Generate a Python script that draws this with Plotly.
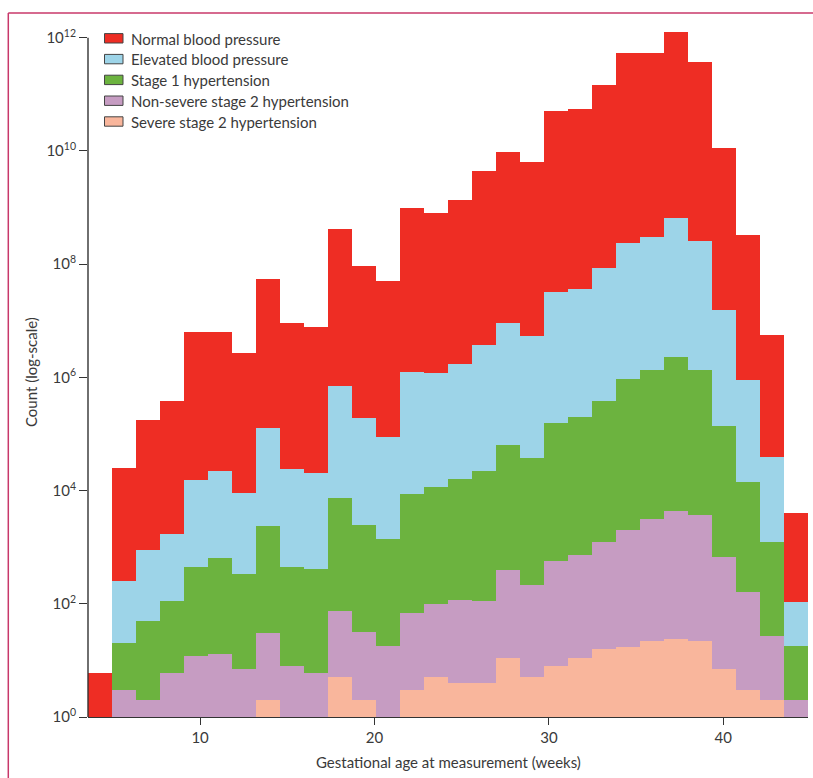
import plotly.graph_objects as go

# ---- data (heights are the top of each stacked segment) ----
week_start = 25 / 7      # first bin edge (weeks)
week_end = 314 / 7       # last bin edge (weeks)
n_bins = 30

normal_top = [6, 2.5e4, 1.8e5, 3.9e5, 6.3e6, 6.3e6, 2.75e6, 5.5e7, 9.2e6, 7.8e6,
              4.2e8, 9.3e7, 5.0e7, 1.0e9, 8.1e8, 1.35e9, 4.4e9, 9.6e9, 6.4e9, 5.1e10,
              5.5e10, 1.46e11, 5.3e11, 5.3e11, 1.26e12, 3.7e11, 1.13e10, 3.3e8, 5.6e6, 4.1e3]
elevated_top = [None, 256, 900, 1700, 1.55e4, 2.2e4, 9100, 1.3e5, 2.4e4, 2.05e4,
                7.1e5, 1.94e5, 8.7e4, 1.25e6, 1.2e6, 1.73e6, 3.7e6, 9.2e6, 5.4e6, 3.2e7,
                3.6e7, 8.5e7, 2.4e8, 3.0e8, 6.6e8, 2.6e8, 1.56e7, 9.1e5, 4.0e4, 108]
stage1_top = [None, 20, 50, 113, 450, 650, 340, 2400, 450, 420,
              7400, 2500, 1400, 8800, 1.15e4, 1.6e4, 2.2e4, 6.4e4, 3.8e4, 1.58e5,
              2.0e5, 3.9e5, 9.4e5, 1.36e6, 2.3e6, 1.36e6, 1.4e5, 1.43e4, 1260, 18]
stage2_top = [None, 3, 2, 6, 12, 13, 7, 30, 8, 6,
              75, 32, 18, 70, 100, 118, 113, 400, 215, 575,
              740, 1260, 2040, 3200, 4400, 3700, 680, 163, 27, 2]
severe_top = [None, None, None, None, None, None, None, 2, None, None,
              5, 2, None, 3, 5, 4, 4, 11, 5, 8,
              11, 16, 17, 22, 24, 22, 7, 3, 2, None]

series_names = ["Normal blood pressure", "Elevated blood pressure", "Stage 1 hypertension",
                "Non-severe stage 2 hypertension", "Severe stage 2 hypertension"]
series_colors = ["#EE2D24", "#9DD4E8", "#6CB33F", "#C69CC2", "#F9B69C"]

x_ticks = [10, 20, 30, 40]
y_tickvals = [1e0, 1e2, 1e4, 1e6, 1e8, 1e10, 1e12]
y_ticktext = ["10<sup>0</sup>", "10<sup>2</sup>", "10<sup>4</sup>", "10<sup>6</sup>",
              "10<sup>8</sup>", "10<sup>10</sup>", "10<sup>12</sup>"]

# ---- figure ----
bin_w = (week_end - week_start) / n_bins
centers = [week_start + (i + 0.5) * bin_w for i in range(n_bins)]

FONT = "Lato"
TXT = "#3a3a3a"
AX = "#333333"

fig = go.Figure()
for name, col, vals in zip(series_names, series_colors,
                           [normal_top, elevated_top, stage1_top, stage2_top, severe_top]):
    fig.add_trace(go.Bar(x=centers, y=vals, width=bin_w, name=name,
                         marker=dict(color=col, line=dict(width=0)),
                         showlegend=False))

W, H = 813, 778
ml, mr, mt, mb = 88, 5, 31, 61
pw, ph = W - ml - mr, H - mt - mb

def px_x(p):
    return (p - ml) / pw

def px_y(p):
    return (H - mb - p) / ph

shapes = []
annotations = []

# y axis spine (trimmed at 10^0 .. 10^12)
shapes.append(dict(type="line", xref="paper", yref="y", x0=0, x1=0, y0=1, y1=1e12,
                   line=dict(color=AX, width=1.4)))

# panel frame lines
frame_col = "#C8386A"
shapes.append(dict(type="line", xref="paper", yref="paper", x0=px_x(8.3), x1=px_x(813),
                   y0=px_y(13), y1=px_y(13), line=dict(color=frame_col, width=1.5)))
shapes.append(dict(type="line", xref="paper", yref="paper", x0=px_x(8.3), x1=px_x(8.3),
                   y0=px_y(13), y1=px_y(778), line=dict(color=frame_col, width=1.5)))

# manual legend
row0, step = 38.3, 20.8
for i, (name, col) in enumerate(zip(series_names, series_colors)):
    cy = row0 + i * step
    shapes.append(dict(type="rect", xref="paper", yref="paper",
                       x0=px_x(104.5), x1=px_x(123), y0=px_y(cy - 4.7), y1=px_y(cy + 4.7),
                       fillcolor=col, line=dict(color="#444444", width=1)))
    annotations.append(dict(xref="paper", yref="paper", x=px_x(128.5), y=px_y(cy + 0.3),
                            xanchor="left", yanchor="middle", showarrow=False, text=name,
                            font=dict(family=FONT, size=15, color=TXT)))

# axis titles
annotations.append(dict(xref="paper", yref="paper", x=px_x(31), y=px_y(372),
                        xanchor="center", yanchor="middle", showarrow=False,
                        text="Count (log-scale)", textangle=-90,
                        font=dict(family=FONT, size=15, color=TXT)))
annotations.append(dict(xref="paper", yref="paper", x=0.5, y=px_y(762),
                        xanchor="center", yanchor="middle", showarrow=False,
                        text="Gestational age at measurement (weeks)",
                        font=dict(family=FONT, size=15, color=TXT)))

fig.update_layout(
    width=W, height=H,
    margin=dict(l=ml, r=mr, t=mt, b=mb),
    barmode="overlay", bargap=0,
    plot_bgcolor="white", paper_bgcolor="white",
    font=dict(family=FONT, size=15, color=TXT),
    shapes=shapes, annotations=annotations,
    xaxis=dict(range=[week_start, week_end], tickvals=x_ticks, ticks="outside",
               ticklen=7, tickwidth=1.4, tickcolor=AX, showline=True, linecolor=AX,
               linewidth=1.4, showgrid=False, zeroline=False,
               tickfont=dict(family=FONT, size=15, color=TXT)),
    yaxis=dict(type="log", range=[0, 12.12], tickvals=y_tickvals, ticktext=y_ticktext,
               ticks="outside", ticklen=8, tickwidth=1.4, tickcolor=AX, showline=False,
               showgrid=False, zeroline=False,
               tickfont=dict(family=FONT, size=15, color=TXT)),
)

fig.write_html("out.html", config={"displayModeBar": False},
               post_script="document.body.style.margin='0';")
